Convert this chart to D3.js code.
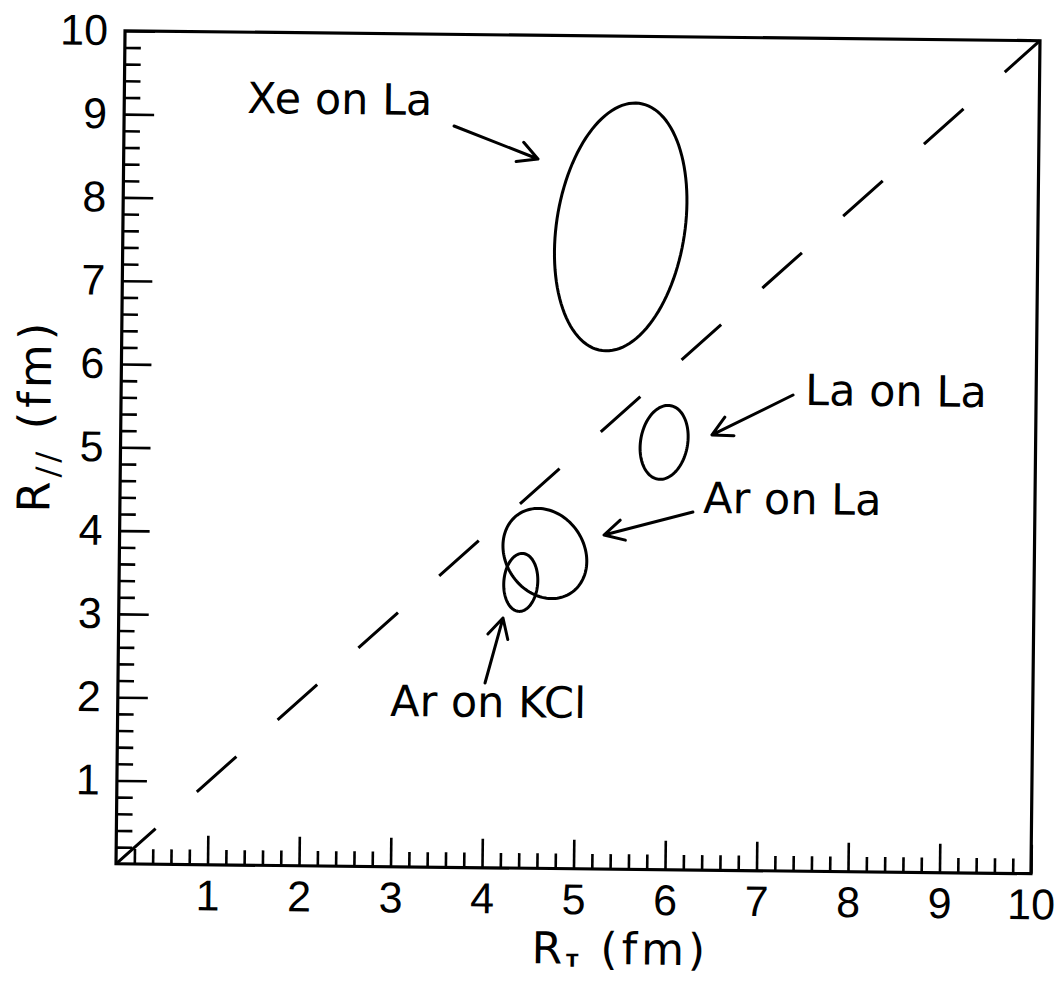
<!DOCTYPE html>
<html>
<head>
<meta charset="utf-8">
<script src="https://cdn.jsdelivr.net/npm/d3@7"></script>
<style>
  body { margin: 0; background: #fff; }
  svg { display: block; }
</style>
</head>
<body>
<div id="chart"></div>
<script>
// axis ticks (fm)
const majorTicks = [1, 2, 3, 4, 5, 6, 7, 8, 9, 10];
const minorTicks = d3.range(1, 50).map(d => d / 5).filter(d => d % 1 !== 0);

// ellipse contours: centre, half extents (fm) and correlation
const ellipseNames = ["Xe on La", "La on La", "Ar on La", "Ar on KCl"];
const ellipseCx = [5.44, 5.94, 4.65, 4.39];
const ellipseCy = [7.71, 5.13, 3.78, 3.43];
const ellipseSx = [0.721, 0.262, 0.459, 0.186];
const ellipseSy = [1.489, 0.444, 0.540, 0.348];
const ellipseRho = [0.20, 0.15, -0.17, 0.07];

// annotation text anchors and arrows (fm)
const labelX = [1.343, 7.475, 6.374, 2.977];
const labelY = [9.03, 5.596, 4.287, 1.81];
const arrowFromX = [3.607, 7.343, 6.263, 4.011];
const arrowFromY = [8.90, 5.715, 4.297, 2.218];
const arrowToX = [4.528, 6.462, 5.294, 4.2];
const arrowToY = [8.515, 5.225, 4.010, 3.0];

const width = 1062, height = 988;
const mLeft = 120.5, mRight = 1035.5, mTop = 35.75, mBottom = 868.75;

const svg = d3.select("#chart").append("svg")
    .attr("width", width)
    .attr("height", height);

// the scanned figure sits slightly rotated on the page
const g = svg.append("g").attr("transform", "rotate(0.62,578,452)");

const x = d3.scaleLinear().domain([0, 10]).range([mLeft, mRight]);
const y = d3.scaleLinear().domain([0, 10]).range([mBottom, mTop]);

const digitFont = "'Liberation Sans', Arial, sans-serif";
const textFont = "'DejaVu Sans', sans-serif";

// minor ticks
g.append("g")
    .attr("transform", `translate(0,${mBottom})`)
    .call(d3.axisBottom(x).tickValues(minorTicks).tickSizeInner(-15).tickSizeOuter(0).tickFormat(""))
    .call(a => a.select(".domain").remove());
g.append("g")
    .attr("transform", `translate(${mLeft},0)`)
    .call(d3.axisLeft(y).tickValues(minorTicks).tickSizeInner(-16).tickSizeOuter(0).tickFormat(""))
    .call(a => a.select(".domain").remove());

// major ticks with labels
const xAxis = g.append("g")
    .attr("transform", `translate(0,${mBottom})`)
    .call(d3.axisBottom(x).tickValues(majorTicks).tickSizeInner(-29).tickSizeOuter(0)
        .tickPadding(15).tickFormat(d3.format("d")));
const yAxis = g.append("g")
    .attr("transform", `translate(${mLeft},0)`)
    .call(d3.axisLeft(y).tickValues(majorTicks).tickSizeInner(-30).tickSizeOuter(0)
        .tickPadding(17).tickFormat(d3.format("d")));

[xAxis, yAxis].forEach(a => {
    a.select(".domain").remove();
    a.attr("font-family", digitFont).attr("font-size", 43);
    a.selectAll("text").attr("fill", "#000");
});
g.selectAll(".tick line").attr("stroke", "#000").attr("stroke-width", 2.6);

// frame
g.append("rect")
    .attr("x", x(0)).attr("y", y(10))
    .attr("width", x(10) - x(0)).attr("height", y(0) - y(10))
    .attr("fill", "none").attr("stroke", "#000").attr("stroke-width", 3.2);

// dashed diagonal R_T = R_//
g.append("line")
    .attr("x1", x(0)).attr("y1", y(0))
    .attr("x2", x(10)).attr("y2", y(10))
    .attr("stroke", "#000").attr("stroke-width", 3)
    .attr("stroke-dasharray", "53 55.2");

// ellipses
const line = d3.line().x(d => x(d[0])).y(d => y(d[1])).curve(d3.curveLinearClosed);
ellipseNames.forEach((name, i) => {
    const r = ellipseRho[i];
    const pts = d3.range(0, 120).map(k => {
        const t = k / 120 * 2 * Math.PI;
        return [ellipseCx[i] + ellipseSx[i] * Math.cos(t),
                ellipseCy[i] + ellipseSy[i] * (r * Math.cos(t) + Math.sqrt(1 - r * r) * Math.sin(t))];
    });
    g.append("path")
        .attr("d", line(pts))
        .attr("fill", "none").attr("stroke", "#000").attr("stroke-width", 3);
});

// annotations
ellipseNames.forEach((name, i) => {
    g.append("text")
        .attr("x", x(labelX[i])).attr("y", y(labelY[i]))
        .attr("font-family", textFont).attr("font-size", 43)
        .text(name);

    const x1 = x(arrowFromX[i]), y1 = y(arrowFromY[i]);
    const x2 = x(arrowToX[i]), y2 = y(arrowToY[i]);
    const ang = Math.atan2(y1 - y2, x1 - x2);
    const len = 22, spread = 28 * Math.PI / 180;
    const b1 = [x2 + len * Math.cos(ang + spread), y2 + len * Math.sin(ang + spread)];
    const b2 = [x2 + len * Math.cos(ang - spread), y2 + len * Math.sin(ang - spread)];
    g.append("path")
        .attr("d", `M${x1},${y1}L${x2},${y2}M${b1[0]},${b1[1]}L${x2},${y2}L${b2[0]},${b2[1]}`)
        .attr("fill", "none").attr("stroke", "#000").attr("stroke-width", 3)
        .attr("stroke-linecap", "round").attr("stroke-linejoin", "round");
});

// axis titles
const xTitle = g.append("text")
    .attr("x", 537).attr("y", mBottom + 95)
    .attr("font-family", textFont).attr("font-size", 44)
    .attr("letter-spacing", 4);
xTitle.append("tspan").text("R");
xTitle.append("tspan").attr("font-size", 18).attr("font-weight", "bold").attr("dy", 3).text("T");
xTitle.append("tspan").attr("dy", -3).text(" (fm)");

const yTitle = g.append("text")
    .attr("transform", `translate(50,${y(5.37)}) rotate(-90)`)
    .attr("text-anchor", "middle")
    .attr("font-family", textFont).attr("font-size", 45)
    .attr("letter-spacing", 4);
yTitle.append("tspan").text("R");
yTitle.append("tspan").attr("font-size", 32).attr("dy", 9).text("//");
yTitle.append("tspan").attr("dy", -9).text(" (fm)");
</script>
</body>
</html>
